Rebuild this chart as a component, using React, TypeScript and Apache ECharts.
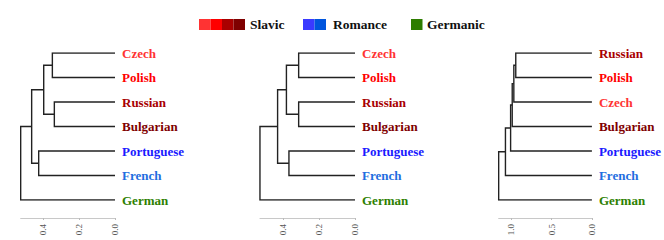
import React, { useEffect, useRef } from "react";
import * as echarts from "echarts";

// Leaf orders (top to bottom) for each dendrogram
const leaves1 = ["Czech", "Polish", "Russian", "Bulgarian", "Portuguese", "French", "German"];
const leaves2 = ["Czech", "Polish", "Russian", "Bulgarian", "Portuguese", "French", "German"];
const leaves3 = ["Russian", "Polish", "Czech", "Bulgarian", "Portuguese", "French", "German"];

// hclust-style merges: [left, right, height]; negative = leaf (1-based), positive = earlier merge
const merges1: [number, number, number][] = [
  [-1, -2, 0.348],
  [-3, -4, 0.337],
  [1, 2, 0.396],
  [-5, -6, 0.424],
  [3, 4, 0.463],
  [5, -7, 0.524],
];
const merges2: [number, number, number][] = [
  [-1, -2, 0.313],
  [-3, -4, 0.313],
  [1, 2, 0.381],
  [-5, -6, 0.367],
  [3, 4, 0.43],
  [5, -7, 0.528],
];
const merges3: [number, number, number][] = [
  [-1, -2, 0.944],
  [1, -3, 0.968],
  [2, -4, 0.988],
  [3, -5, 1.008],
  [4, -6, 1.072],
  [5, -7, 1.156],
];

// Axis tick values
const ticks1 = [0, 0.2, 0.4];
const ticks2 = [0, 0.2, 0.4];
const ticks3 = [0, 0.5, 1.0];

// Language colours
const langColors: Record<string, string> = {
  Czech: "#ff3333",
  Polish: "#ff0000",
  Russian: "#a80000",
  Bulgarian: "#7f0000",
  Portuguese: "#1a1aff",
  French: "#1e6ee0",
  German: "#2e8000",
};

// Legend groups
const legendGroups = ["Slavic", "Romance", "Germanic"];
const legendSwatches = [
  ["#ff3333", "#ff0000", "#aa0000", "#7f0000"],
  ["#3a3aff", "#0055dd"],
  ["#2e7d00"],
];

const SERIF = "Liberation Serif";

function buildLinks(merges: [number, number, number][]) {
  const nodeY: number[] = [];
  const nodeX: number[] = [];
  const pos = (id: number): [number, number] =>
    id < 0 ? [0, -id - 1] : [nodeX[id - 1], nodeY[id - 1]];
  const links: any[] = [];
  merges.forEach(([a, b, h], i) => {
    const [xa, ya] = pos(a);
    const [xb, yb] = pos(b);
    nodeX[i] = h;
    nodeY[i] = (ya + yb) / 2;
    links.push({
      coords: [
        [xa, ya],
        [h, ya],
        [h, yb],
        [xb, yb],
      ],
    });
  });
  return links;
}

const richKey = (name: string) => "k" + name;
const rich: Record<string, any> = {};
Object.keys(langColors).forEach((n) => {
  rich[richKey(n)] = {
    color: langColors[n],
    fontFamily: SERIF,
    fontWeight: "bold",
    fontSize: 13,
  };
});

export default function App() {
  const ref = useRef<HTMLDivElement>(null);
  useEffect(() => {
    document.body.style.margin = "0";
    if (!ref.current) return;
    const chart = echarts.init(ref.current, undefined, { renderer: "svg" });

    const panels = [
      { leaves: leaves1, merges: merges1, ticks: ticks1, zeroX: 115, scale: 180, max: 0.524 },
      { leaves: leaves2, merges: merges2, ticks: ticks2, zeroX: 355, scale: 180, max: 0.528 },
      { leaves: leaves3, merges: merges3, ticks: ticks3, zeroX: 595, scale: 83.33, max: 1.156 },
    ];

    const grids: any[] = [];
    const xAxes: any[] = [];
    const yAxes: any[] = [];
    const series: any[] = [];
    panels.forEach((p, i) => {
      const left = p.zeroX - p.max * p.scale;
      grids.push({ left, right: 664 - p.zeroX, top: 53, bottom: 40 });
      xAxes.push({
        type: "value",
        gridIndex: i,
        position: "bottom",
        inverse: true,
        min: 0,
        max: p.max,
        offset: 18,
        splitLine: { show: false },
        axisLine: { show: true, onZero: false, lineStyle: { color: "#c8c8c8", width: 1 } },
        axisTick: { show: true, customValues: p.ticks, length: 2, lineStyle: { color: "#bbbbbb" } },
        axisLabel: {
          customValues: p.ticks,
          rotate: 90,
          margin: 6,
          color: "#555555",
          fontSize: 9,
          fontFamily: SERIF,
          formatter: (v: number) => v.toFixed(1),
        },
      });
      yAxes.push({
        type: "value",
        gridIndex: i,
        inverse: true,
        min: 0,
        max: 6,
        interval: 1,
        position: "right",
        axisLine: { show: false, onZero: false },
        axisTick: { show: false },
        splitLine: { show: false },
        axisLabel: {
          margin: 7,
          align: "left",
          fontFamily: SERIF,
          fontWeight: "bold",
          fontSize: 13,
          formatter: (v: number) => {
            const name = p.leaves[Math.round(v)];
            return name ? `{${richKey(name)}|${name}}` : "";
          },
          rich,
        },
      });
      series.push({
        type: "lines",
        coordinateSystem: "cartesian2d",
        xAxisIndex: i,
        yAxisIndex: i,
        polyline: true,
        silent: true,
        lineStyle: { color: "#222222", width: 1.4, opacity: 1 },
        data: buildLinks(p.merges),
      });
    });

    // Legend drawn as graphic
    const graphic: any[] = [];
    const legendStarts = [199, 303, 411];
    const textStarts = [250, 333, 427];
    legendGroups.forEach((g, gi) => {
      legendSwatches[gi].forEach((c, ci) => {
        graphic.push({
          type: "rect",
          shape: { x: legendStarts[gi] + ci * 11.5, y: 19, width: 11.5, height: 11 },
          style: { fill: c },
        });
      });
      graphic.push({
        type: "text",
        x: textStarts[gi],
        y: 24.5,
        style: {
          text: g,
          fill: "#111111",
          fontFamily: SERIF,
          fontWeight: "bold",
          fontSize: 13.5,
          verticalAlign: "middle",
          align: "left",
        },
      });
    });

    chart.setOption({
      animation: false,
      textStyle: { fontFamily: SERIF },
      grid: grids,
      xAxis: xAxes,
      yAxis: yAxes,
      series,
      graphic,
    });
    return () => chart.dispose();
  }, []);
  return <div ref={ref} style={{ width: 664, height: 240 }} />;
}
